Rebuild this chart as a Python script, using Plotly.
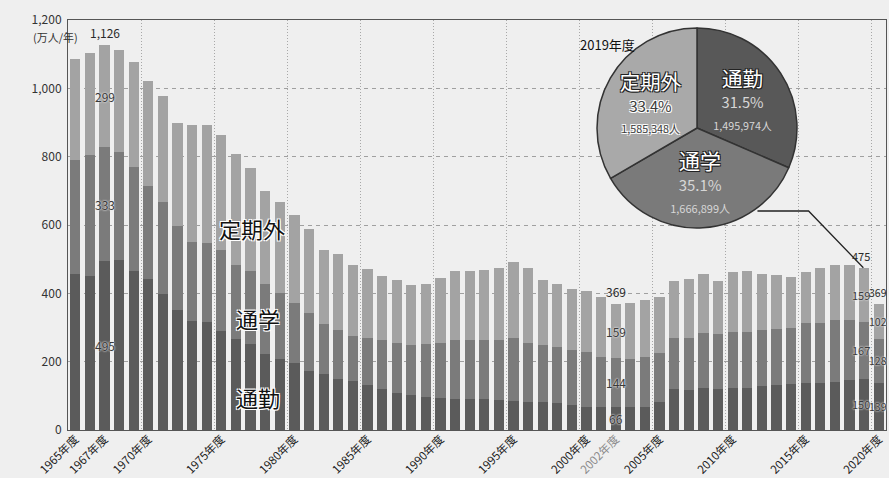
import plotly.graph_objects as go

# Annual ridership, 10,000 passengers per year
years = list(range(1965, 2021))

commute = [456, 452, 494.6, 499, 466, 443, 398, 351, 319, 317,
           290, 265, 251, 221, 208, 196, 172, 163, 148, 143,
           132, 119, 108, 102, 97, 93, 90, 90, 90, 87,
           85, 83, 83, 80, 74, 68, 68, 66, 68, 68,
           81, 120, 117, 124, 121, 123, 124, 130, 132, 135,
           137, 139, 141, 147, 149.6, 139]

school = [335, 354, 332.6, 314, 304, 272, 270, 245, 230, 231,
          238, 217, 215, 205, 192, 176, 170, 146, 144, 132,
          136, 143, 147, 146, 154, 163, 172, 173, 173, 176,
          183, 173, 166, 163, 160, 160, 147, 144, 140, 146,
          143, 149, 152, 161, 160, 165, 164, 162, 163, 163,
          175, 175, 180, 175, 166.7, 128]

non_pass = [294, 298, 298.8, 299, 307, 307, 309, 302, 344, 344,
            335, 325, 301, 274, 266, 256, 245, 219, 223, 209,
            202, 189, 185, 175, 176, 189, 202, 203, 205, 211,
            224, 217, 191, 185, 178, 180, 175, 159, 163, 166,
            166, 166, 172, 173, 156, 173, 178, 166, 158, 151,
            149, 159, 161, 162, 158.53, 102]

series_names = ["通勤", "通学", "定期外"]
bar_colors = ["#5b5b5b", "#7b7b7b", "#a3a3a3"]

# FY2019 breakdown (persons)
pie_labels = ["通勤", "通学", "定期外"]
pie_values = [1495974, 1666899, 1585348]
pie_colors = ["#585858", "#7a7a7a", "#a9a9a9"]

tick_years = [1965, 1967, 1970, 1975, 1980, 1985, 1990, 1995, 2000, 2002,
              2005, 2010, 2015, 2020]
tick_text = [f"{y}年度" if y != 2002 else f"<span style='color:#8a8a8a'>{y}年度</span>"
             for y in tick_years]
labelled_years = [1967, 2002, 2019, 2020]
# small horizontal nudges so the last two columns of labels stay apart
label_xshift = {1967: 0, 2002: 0, 2019: -3, 2020: -1}
label_size = {1967: 12, 2002: 12, 2019: 11, 2020: 10.5}

FONT = "Noto Sans CJK JP"
BG = "#efefef"
halo_white = "-1px -1px 0 #fff, 1px -1px 0 #fff, -1px 1px 0 #fff, 1px 1px 0 #fff"
halo_soft = "0 0 2px #e6e6e6, 0 0 2px #e6e6e6"
halo_dark = "-1px -1px 0 #222, 1px -1px 0 #222, -1px 1px 0 #222, 1px 1px 0 #222"

fig = go.Figure()

for name, vals, col in zip(series_names, [commute, school, non_pass], bar_colors):
    fig.add_trace(go.Bar(x=years, y=vals, name=name, marker_color=col,
                         marker_line_width=0, showlegend=False))

# value labels for selected years
annotations = []
for yr in labelled_years:
    i = years.index(yr)
    segs = [commute[i], school[i], non_pass[i]]
    total = sum(segs)
    base = 0
    for v in segs:
        annotations.append(dict(x=yr, y=base + v / 2, xref="x", yref="y",
                                xshift=label_xshift[yr],
                                text=f"{v:,.0f}", showarrow=False,
                                font=dict(family=FONT, size=label_size[yr], color="#3a3a3a",
                                          shadow=halo_soft)))
        base += v
    annotations.append(dict(x=yr, y=total, xref="x", yref="y", yanchor="bottom",
                            yshift=2, xshift=label_xshift[yr],
                            text=f"{total:,.0f}", showarrow=False,
                            font=dict(family=FONT, size=label_size[yr], color="#2a2a2a")))

# series names written over the bars
for txt, xv, yv in [("定期外", 1977.1, 591), ("通学", 1977.5, 328), ("通勤", 1977.5, 97)]:
    annotations.append(dict(x=xv, y=yv, xref="x", yref="y", text=txt, showarrow=False,
                            font=dict(family=FONT, size=22, color="#111",
                                      shadow=halo_white)))

annotations.append(dict(x=-0.045, y=0.982, xref="paper", yref="paper", yanchor="top",
                        text="(万人/年)", showarrow=False,
                        font=dict(family=FONT, size=11, color="#333")))
annotations.append(dict(x=0.6235, y=0.968, xref="paper", yref="paper", xanchor="left",
                        text="2019年度", showarrow=False,
                        font=dict(family=FONT, size=13, color="#111")))

# pie of the FY2019 breakdown
name_style = "font-size:21px;color:#ffffff;text-shadow:" + halo_dark
templates = []
for lbl in pie_labels:
    templates.append(f"<span style='{name_style}'>%{{label}}</span><br>"
                     f"<span style='font-size:15px'>%{{percent:.1%}}</span><br>"
                     f"<span style='font-size:11px'>%{{value:,}}人</span>")

fig.add_trace(go.Pie(labels=pie_labels, values=pie_values, sort=False,
                     direction="clockwise", rotation=0,
                     marker=dict(colors=pie_colors, line=dict(color="#333", width=1.5)),
                     texttemplate=templates, textposition="inside",
                     insidetextorientation="horizontal",
                     textfont=dict(family=FONT, size=17,
                                   color=["#d6d6d6", "#d6d6d6", "#3a3a3a"],
                                   shadow=["none", "none", halo_white]),
                     domain=dict(x=[0.6467, 0.8912], y=[0.4927, 0.9805]),
                     showlegend=False, hoverinfo="skip"))

# leader line from the pie to the FY2019 bar
i19 = years.index(2019)
top19 = commute[i19] + school[i19] + non_pass[i19]
shapes = [dict(type="path", xref="x", yref="y",
               path=f"M 2011.7,641 L 2015.2,641 L {2019 - 0.05},{top19}",
               line=dict(color="#222", width=1.3))]

fig.update_layout(
    width=889, height=478,
    margin=dict(l=68, r=3, t=20, b=48),
    paper_bgcolor=BG, plot_bgcolor=BG,
    barmode="stack", bargap=0.3,
    font=dict(family=FONT, color="#333"),
    annotations=annotations, shapes=shapes,
    xaxis=dict(range=[1964.5, 2020.5], tickvals=tick_years, ticktext=tick_text,
               tickangle=-45, tickfont=dict(family=FONT, size=11.5, color="#222"),
               automargin=False, ticklabelstandoff=-3,
               showgrid=False, zeroline=False, showline=True, linecolor="#555",
               linewidth=1, mirror=True, ticks="",
               minor=dict(tickvals=[1969.5 + 5 * k for k in range(11)], showgrid=True,
                          gridcolor="#a8a8a8", griddash="1px,2px", gridwidth=1, ticks="")),
    yaxis=dict(range=[0, 1200], tickvals=[0, 200, 400, 600, 800, 1000, 1200],
               tickformat=",", tickfont=dict(family=FONT, size=12, color="#333"),
               automargin=False,
               showgrid=True, gridcolor="#a0a0a0", griddash="4px,4px", gridwidth=1,
               zeroline=False, showline=True, linecolor="#555", linewidth=1,
               mirror=True, ticks="", ticklabelstandoff=3),
)

fig.write_html("out.html")
